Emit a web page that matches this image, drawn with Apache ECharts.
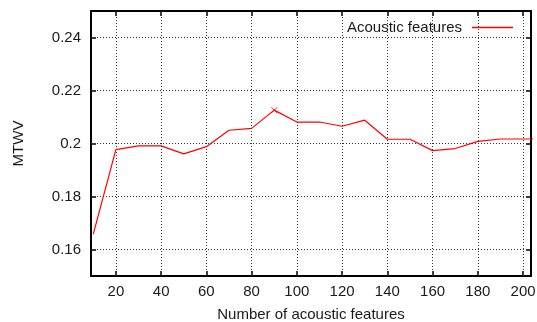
<!DOCTYPE html>
<html>
<head>
<meta charset="UTF-8">
<title>MTWV</title>
<script src="https://cdn.jsdelivr.net/npm/echarts@6/dist/echarts.min.js"></script>
<style>
  html, body { margin: 0; padding: 0; background: #fff; }
</style>
</head>
<body>
<div id="main" style="width: 537px;height:322px;"></div>
<script type="text/javascript">
// data (last point lies past the right edge, clipped)
var features = [10, 20, 30, 40, 50, 60, 70, 80, 90, 100, 110, 120, 130, 140, 150, 160, 170, 180, 190, 200, 210];
var mtwv = [0.1658, 0.1977, 0.1991, 0.1991, 0.1961, 0.1988, 0.2050, 0.2057, 0.2126, 0.2081,
            0.2081, 0.2065, 0.2088, 0.2016, 0.2016, 0.1973, 0.1981, 0.2008, 0.2017, 0.2017, 0.2017];
var bestPoint = [90, 0.2126];
var xTicks = [20, 40, 60, 80, 100, 120, 140, 160, 180, 200];
var yTicks = [0.16, 0.18, 0.2, 0.22, 0.24];

var font = 'Liberation Sans';
var textColor = '#1a1a1a';

var pts = [];
for (var i = 0; i < features.length; i++) {
  pts.push([features[i], mtwv[i]]);
}

// grid lines (gnuplot style dotted)
var gridLines = [];
for (var i = 0; i < xTicks.length; i++) gridLines.push({ xAxis: xTicks[i] });
for (var i = 0; i < yTicks.length; i++) gridLines.push({ yAxis: yTicks[i] });

function yFmt(v) {
  return String(Number(v.toFixed(2)));
}

var myChart = echarts.init(document.getElementById('main'));

var baseX = {
  type: 'value',
  min: 9,
  max: 203.5,
  axisLine: { onZero: false, lineStyle: { color: '#000', width: 2 } },
  axisTick: { inside: true, length: 5, customValues: xTicks, lineStyle: { color: '#000', width: 1.5 } },
  splitLine: { show: false }
};
var baseY = {
  type: 'value',
  min: 0.15,
  max: 0.25,
  axisLine: { onZero: false, lineStyle: { color: '#000', width: 2 } },
  axisTick: { inside: true, length: 5, customValues: yTicks, lineStyle: { color: '#000', width: 1.5 } },
  splitLine: { show: false }
};

var option = {
  animation: false,
  textStyle: { fontFamily: font },
  grid: { left: 91, right: 6, top: 11, bottom: 46, outerBoundsMode: 'none', containLabel: false },
  legend: {
    data: ['Acoustic features'],
    right: 19,
    top: 15,
    align: 'right',
    icon: 'rect',
    itemWidth: 41,
    itemHeight: 1.5,
    itemGap: 10,
    textStyle: { fontFamily: font, fontSize: 15, color: textColor, padding: [0, 5, 0, 0] }
  },
  xAxis: [
    echarts.util.merge({
      position: 'bottom',
      name: 'Number of acoustic features',
      nameLocation: 'middle',
      nameGap: 31,
      nameTextStyle: { fontFamily: font, fontSize: 15, color: textColor },
      axisLabel: { customValues: xTicks, margin: 8, fontFamily: font, fontSize: 15, color: textColor }
    }, baseX, true),
    echarts.util.merge({
      position: 'top',
      axisLabel: { show: false }
    }, baseX, true)
  ],
  yAxis: [
    echarts.util.merge({
      position: 'left',
      name: 'MTWV',
      nameLocation: 'middle',
      nameGap: 65,
      nameTextStyle: { fontFamily: font, fontSize: 15, color: textColor },
      axisLabel: { customValues: yTicks, margin: 10, fontFamily: font, fontSize: 15, color: textColor, formatter: yFmt }
    }, baseY, true),
    echarts.util.merge({
      position: 'right',
      axisLabel: { show: false }
    }, baseY, true)
  ],
  series: [
    {
      name: 'Acoustic features',
      type: 'line',
      data: pts,
      symbol: 'none',
      clip: true,
      itemStyle: { color: '#ff0000' },
      lineStyle: { color: '#ff0000', width: 1.2 },
      markLine: {
        silent: true,
        symbol: 'none',
        label: { show: false },
        lineStyle: { color: '#333', type: [1, 2], width: 1 },
        data: gridLines,
        z: 1
      },
      z: 3
    },
    {
      name: 'best',
      type: 'scatter',
      data: [bestPoint],
      symbol: 'path://M0,0L10,10M10,0L0,10',
      symbolSize: 6,
      itemStyle: { color: 'none', borderColor: '#ff0000', borderWidth: 1 },
      z: 4
    }
  ]
};

myChart.setOption(option);
</script>
</body>
</html>
